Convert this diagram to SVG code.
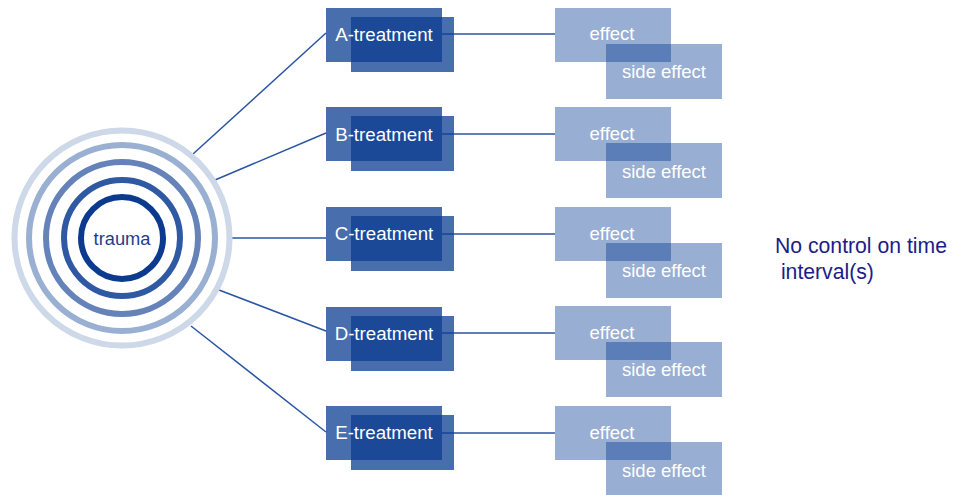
<svg xmlns="http://www.w3.org/2000/svg" width="955" height="495" viewBox="0 0 955 495">
<style>
.bg{fill:#ffffff}
.tr{fill:#0c3e92;fill-opacity:0.75}
.ef{fill:#043a94;fill-opacity:0.41}
.lbl{font-family:"Liberation Sans",Arial,sans-serif;fill:#ffffff;text-anchor:middle}
.tl{font-size:18.7px}
.el{font-size:18.5px}
.ring{fill:none;stroke-width:6}
.conn{stroke:#2a55a3;stroke-width:1.5;fill:none}
.note{font-family:"Liberation Sans",Arial,sans-serif;font-size:21.2px;fill:#1c1c8a}
</style>
<rect class="bg" x="0" y="0" width="955" height="495"/>
<g id="connectors">
<line class="conn" x1="193" y1="154" x2="326" y2="33"/>
<line class="conn" x1="215" y1="180" x2="326" y2="133"/>
<line class="conn" x1="231" y1="238" x2="326" y2="238"/>
<line class="conn" x1="219" y1="290" x2="326" y2="331"/>
<line class="conn" x1="191" y1="326" x2="326" y2="432"/>
<line class="conn" x1="442" y1="34" x2="555" y2="34"/>
<line class="conn" x1="442" y1="134" x2="555" y2="134"/>
<line class="conn" x1="442" y1="234" x2="555" y2="234"/>
<line class="conn" x1="442" y1="333" x2="555" y2="333"/>
<line class="conn" x1="442" y1="433" x2="555" y2="433"/>
</g>
<g id="trauma">
<circle class="ring" cx="122" cy="238" r="107.5" stroke="#cdd8e8"/>
<circle class="ring" cx="122" cy="238" r="93" stroke="#9ab0d3"/>
<circle class="ring" cx="122" cy="238" r="76" stroke="#6583b9"/>
<circle class="ring" cx="122" cy="238" r="58" stroke="#2f5aa3"/>
<circle class="ring" cx="122" cy="238" r="41" stroke="#0b3a8e"/>
<text x="122" y="245" font-family="Liberation Sans, Arial, sans-serif" font-size="18.3" fill="#1f3c8c" text-anchor="middle">trauma</text>
</g>
<g id="treatment-a">
<rect class="tr" x="351" y="17" width="103" height="55"/>
<rect class="tr" x="326" y="8" width="116" height="54"/>
<text class="lbl tl" x="384" y="41">A-treatment</text>
</g>
<g id="treatment-b">
<rect class="tr" x="351" y="116" width="103" height="55"/>
<rect class="tr" x="326" y="107" width="116" height="54"/>
<text class="lbl tl" x="384" y="141">B-treatment</text>
</g>
<g id="treatment-c">
<rect class="tr" x="351" y="216" width="103" height="55"/>
<rect class="tr" x="326" y="207" width="116" height="54"/>
<text class="lbl tl" x="384" y="240">C-treatment</text>
</g>
<g id="treatment-d">
<rect class="tr" x="351" y="316" width="103" height="55"/>
<rect class="tr" x="326" y="307" width="116" height="54"/>
<text class="lbl tl" x="384" y="340">D-treatment</text>
</g>
<g id="treatment-e">
<rect class="tr" x="351" y="415" width="103" height="55"/>
<rect class="tr" x="326" y="406" width="116" height="54"/>
<text class="lbl tl" x="384" y="439">E-treatment</text>
</g>
<g id="effect-a">
<rect class="ef" x="555" y="8" width="116" height="54"/>
<rect class="ef" x="606" y="44" width="116" height="55"/>
<text class="lbl el" x="612" y="40">effect</text>
<text class="lbl el" x="664" y="78">side effect</text>
</g>
<g id="effect-b">
<rect class="ef" x="555" y="107" width="116" height="54"/>
<rect class="ef" x="606" y="143" width="116" height="55"/>
<text class="lbl el" x="612" y="140">effect</text>
<text class="lbl el" x="664" y="178">side effect</text>
</g>
<g id="effect-c">
<rect class="ef" x="555" y="207" width="116" height="54"/>
<rect class="ef" x="606" y="243" width="116" height="55"/>
<text class="lbl el" x="612" y="240">effect</text>
<text class="lbl el" x="664" y="277">side effect</text>
</g>
<g id="effect-d">
<rect class="ef" x="555" y="306" width="116" height="54"/>
<rect class="ef" x="606" y="342" width="116" height="55"/>
<text class="lbl el" x="612" y="339">effect</text>
<text class="lbl el" x="664" y="376">side effect</text>
</g>
<g id="effect-e">
<rect class="ef" x="555" y="406" width="116" height="54"/>
<rect class="ef" x="606" y="442" width="116" height="55"/>
<text class="lbl el" x="612" y="439">effect</text>
<text class="lbl el" x="664" y="477">side effect</text>
</g>
<g id="note">
<text class="note" x="775" y="253">No control on time</text>
<text class="note" x="775" y="279" xml:space="preserve"> interval(s)</text>
</g>
</svg>
